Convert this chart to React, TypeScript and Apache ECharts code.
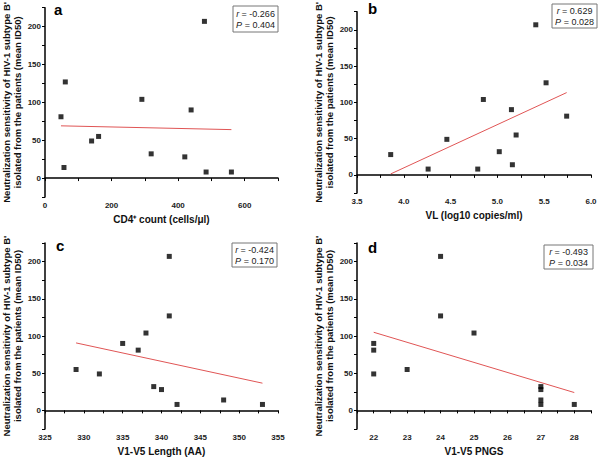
import React, { useEffect, useRef } from "react";
import * as echarts from "echarts";

// Panel a: CD4+ count
const cd4X = [48, 61, 57, 140, 161, 291, 319, 420, 439, 479, 484, 560];
const cd4Y = [81, 127, 14, 49, 55, 104, 32, 28, 90, 207, 8, 8];
const cd4Fit = [[48, 69], [560, 64]];
// Panel b: VL
const vlX = [3.86, 4.26, 4.46, 4.79, 4.85, 5.02, 5.15, 5.16, 5.2, 5.41, 5.52, 5.74];
const vlY = [28, 8, 49, 8, 104, 32, 90, 14, 55, 207, 127, 81];
const vlFit = [[3.86, 1.3], [5.74, 113.5]];
// Panel c: V1-V5 length
const lenX = [329, 332, 335, 337, 338, 339, 340, 341, 341, 342, 348, 353];
const lenY = [55, 49, 90, 81, 104, 32, 28, 207, 127, 8, 14, 8];
const lenFit = [[329, 90.7], [353, 36.6]];
// Panel d: V1-V5 PNGS
const pngsX = [22, 22, 22, 23, 24, 24, 25, 27, 27, 27, 27, 28];
const pngsY = [90, 81, 49, 55, 207, 127, 104, 32, 28, 14, 8, 8];
const pngsFit = [[22, 105], [28, 24]];

const panelLetters = ["a", "b", "c", "d"];
const rValues = ["-0.266", "0.629", "-0.424", "-0.493"];
const pValues = ["0.404", "0.028", "0.170", "0.034"];
const xTitles = [
  "CD4⁺ count (cells/μl)",
  "VL (log10 copies/ml)",
  "V1-V5 Length (AA)",
  "V1-V5 PNGS",
];
const yTitle = "Neutralization sensitivity of HIV-1 subtype B'\nisolated from the patients (mean ID50)";

const FONT = "Liberation Sans, Arial, Helvetica, sans-serif";

export default function App() {
  const ref = useRef<HTMLDivElement>(null);
  useEffect(() => {
    if (!ref.current) return;
    const chart = echarts.init(ref.current, null, { renderer: "svg" });

    const grids = [
      { left: 43, top: 7, width: 235, height: 190 },
      { left: 357, top: 5, width: 234, height: 188 },
      { left: 44, top: 243, width: 234, height: 189 },
      { left: 357, top: 243, width: 234, height: 189 },
    ];
    const xCfg = [
      { min: 0, max: 700, interval: 100, fmt: (v: number) => (v % 200 === 0 && v <= 600 ? String(v) : "") },
      { min: 3.5, max: 6, interval: 0.25, fmt: (v: number) => (Math.abs((v * 2) % 1) < 1e-9 ? v.toFixed(1) : "") },
      { min: 325, max: 355, interval: 2.5, fmt: (v: number) => (v % 5 === 0 ? String(v) : "") },
      { min: 21.5, max: 28.5, interval: 0.5, fmt: (v: number) => (v % 1 === 0 ? String(v) : "") },
    ];
    const pts = [
      [cd4X, cd4Y],
      [vlX, vlY],
      [lenX, lenY],
      [pngsX, pngsY],
    ];
    const fits = [cd4Fit, vlFit, lenFit, pngsFit];

    const axisCommon = {
      axisLine: { lineStyle: { color: "#000", width: 1.5 } },
      axisTick: { show: true, inside: false, length: 3, lineStyle: { color: "#000", width: 1 } },
      splitLine: { show: false },
    };

    const xAxis = xCfg.map((c, i) => ({
      type: "value",
      gridIndex: i,
      min: c.min,
      max: c.max,
      interval: c.interval,
      ...axisCommon,
      axisLabel: {
        formatter: c.fmt,
        fontSize: 8,
        fontWeight: "bold",
        color: "#222",
        fontFamily: FONT,
        margin: 4,
        showMinLabel: true,
        showMaxLabel: true,
      },
      name: xTitles[i],
      nameLocation: "middle",
      nameGap: 17,
      nameTextStyle: { fontSize: 10, fontWeight: "bold", color: "#111", fontFamily: FONT },
    }));

    const yAxis = grids.map((g, i) => ({
      type: "value",
      gridIndex: i,
      min: -25,
      max: 225,
      interval: 25,
      ...axisCommon,
      axisLabel: {
        formatter: (v: number) => (v >= 0 && v <= 200 && v % 50 === 0 ? String(v) : ""),
        fontSize: 8,
        fontWeight: "bold",
        color: "#222",
        fontFamily: FONT,
        margin: 4,
      },
      name: yTitle,
      nameLocation: "middle",
      nameRotate: 90,
      nameGap: 22,
      nameTextStyle: { fontSize: 9.5, fontWeight: "bold", color: "#111", fontFamily: FONT, lineHeight: 11 },
    }));

    const series: any[] = [];
    pts.forEach(([xs, ys], i) => {
      series.push({
        type: "scatter",
        xAxisIndex: i,
        yAxisIndex: i,
        symbol: "rect",
        symbolSize: 5,
        itemStyle: { color: "#000" },
        data: xs.map((x, k) => [x, ys[k]]),
        z: 3,
      });
      series.push({
        type: "line",
        xAxisIndex: i,
        yAxisIndex: i,
        data: fits[i],
        symbol: "none",
        lineStyle: { color: "#e05555", width: 1 },
        z: 2,
      });
    });

    const boxes = [
      { x: 233, y: 6, w: 45, h: 26 },
      { x: 552, y: 4, w: 45, h: 24 },
      { x: 232, y: 243, w: 45, h: 24 },
      { x: 544, y: 245, w: 49, h: 24 },
    ];
    const letterPos = [
      [54, 2],
      [368, 1],
      [56, 238],
      [368, 240],
    ];
    const graphic: any[] = [];
    boxes.forEach((b, i) => {
      graphic.push({
        type: "rect",
        shape: { x: b.x, y: b.y, width: b.w, height: b.h },
        style: { fill: "#fff", stroke: "#777", lineWidth: 1 },
        z: 10,
      });
      graphic.push({
        type: "text",
        x: b.x + b.w / 2,
        y: b.y + b.h / 2,
        z: 11,
        style: {
          text: `{i|r} = ${rValues[i]}\n{i|P} = ${pValues[i]}`,
          align: "center",
          verticalAlign: "middle",
          fontSize: 9,
          fontFamily: FONT,
          fill: "#222",
          lineHeight: 11,
          rich: { i: { fontStyle: "italic", fontSize: 9, fontFamily: FONT, fill: "#222" } },
        },
      });
    });
    letterPos.forEach(([x, y], i) => {
      graphic.push({
        type: "text",
        x,
        y,
        z: 11,
        style: {
          text: panelLetters[i],
          fontSize: 15,
          fontWeight: "bold",
          fontFamily: FONT,
          fill: "#000",
        },
      });
    });

    chart.setOption({
      animation: false,
      backgroundColor: "#fff",
      grid: grids,
      xAxis,
      yAxis,
      series,
      graphic,
    });
    return () => chart.dispose();
  }, []);
  return (
    <div
      ref={ref}
      style={{ position: "fixed", left: 0, top: 0, width: 600, height: 457 }}
    />
  );
}
